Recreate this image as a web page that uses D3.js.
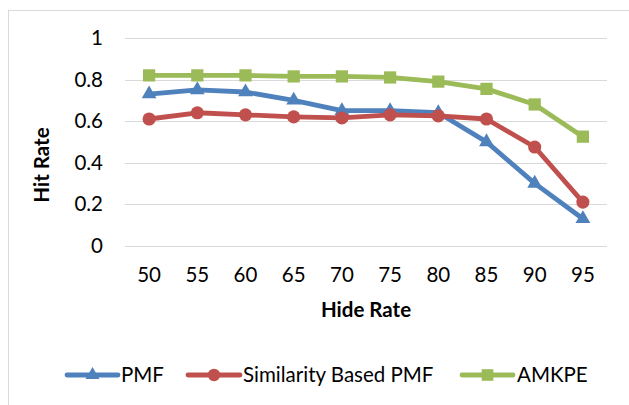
<html>
<head>
<script src="https://d3js.org/d3.v7.min.js"></script>
<style>
  body { margin: 0; background: #fff; }
  text { font-family: Lato, "Open Sans", sans-serif; fill: #000; }
</style>
</head>
<body>
<div id="container"></div>
<script>
// data
const hideRates = ['50', '55', '60', '65', '70', '75', '80', '85', '90', '95']
const pmf = [0.73, 0.75, 0.74, 0.70, 0.65, 0.65, 0.64, 0.50, 0.30, 0.13]
const simPmf = [0.61, 0.64, 0.63, 0.62, 0.615, 0.63, 0.625, 0.61, 0.475, 0.21]
const amkpe = [0.82, 0.82, 0.82, 0.815, 0.815, 0.81, 0.79, 0.755, 0.68, 0.525]
const yTicks = [0, 0.2, 0.4, 0.6, 0.8, 1]

const series = [
  { name: 'PMF', values: pmf, color: '#4F81BD', symbol: d3.symbolTriangle, size: 95 },
  { name: 'Similarity Based PMF', values: simPmf, color: '#C0504D', symbol: d3.symbolCircle, size: 135 },
  { name: 'AMKPE', values: amkpe, color: '#9BBB59', symbol: d3.symbolSquare, size: 150 }
]

const width = 629, height = 405
const fontSize = '20.5px'
const svg = d3.select('#container').append('svg')
  .attr('width', width).attr('height', height)

// chart frame
svg.append('rect')
  .attr('x', 8.5).attr('y', 10.5)
  .attr('width', 640).attr('height', 420)
  .attr('fill', 'none').attr('stroke', '#d9d9d9')

const x = d3.scaleBand().domain(hideRates).range([125, 607])
const y = d3.scaleLinear().domain([0, 1]).range([245.7, 38])
const cx = d => x(d) + x.bandwidth() / 2

// gridlines
svg.append('g').selectAll('line').data(yTicks).join('line')
  .attr('x1', 125).attr('x2', 607)
  .attr('y1', d => Math.round(y(d)) + 0.5).attr('y2', d => Math.round(y(d)) + 0.5)
  .attr('stroke', '#d9d9d9').attr('stroke-width', 1.2)

// y tick labels
svg.append('g').selectAll('text').data(yTicks).join('text')
  .attr('x', 103).attr('y', d => y(d))
  .attr('dy', '0.35em').attr('text-anchor', 'end')
  .style('font-size', fontSize)
  .text(d => d3.format('~g')(d))

// x tick labels
svg.append('g').selectAll('text').data(hideRates).join('text')
  .attr('x', cx).attr('y', 275)
  .attr('dy', '0.35em').attr('text-anchor', 'middle')
  .style('font-size', fontSize)
  .text(d => d)

// axis titles
svg.append('text')
  .attr('transform', 'translate(42,165) rotate(-90)')
  .attr('dy', '0.35em').attr('text-anchor', 'middle')
  .style('font-size', fontSize).style('font-weight', 'bold')
  .text('Hit Rate')

svg.append('text')
  .attr('x', 366).attr('y', 310)
  .attr('dy', '0.35em').attr('text-anchor', 'middle')
  .style('font-size', fontSize).style('font-weight', 'bold')
  .text('Hide Rate')

const line = d3.line()
  .x((d, i) => cx(hideRates[i]))
  .y(d => y(d))

series.forEach(s => {
  const g = svg.append('g')
  g.append('path')
    .attr('d', line(s.values))
    .attr('fill', 'none').attr('stroke', s.color)
    .attr('stroke-width', 4.8).attr('stroke-linejoin', 'round')
  g.selectAll('path.m').data(s.values).join('path')
    .attr('class', 'm')
    .attr('transform', (d, i) => `translate(${cx(hideRates[i])},${y(d)})`)
    .attr('d', d3.symbol().type(s.symbol).size(s.size))
    .attr('fill', s.color)
})

// legend
const legendPos = [
  { x1: 67, x2: 118, tx: 121 },
  { x1: 188, x2: 240, tx: 243 },
  { x1: 462, x2: 513, tx: 517 }
]
const legendY = 375
series.forEach((s, i) => {
  const p = legendPos[i]
  const g = svg.append('g')
  g.append('line')
    .attr('x1', p.x1).attr('x2', p.x2)
    .attr('y1', legendY).attr('y2', legendY)
    .attr('stroke', s.color).attr('stroke-width', 4.8)
    .attr('stroke-linecap', 'round')
  g.append('path')
    .attr('transform', `translate(${(p.x1 + p.x2) / 2},${legendY})`)
    .attr('d', d3.symbol().type(s.symbol).size(s.size * 0.9))
    .attr('fill', s.color)
  g.append('text')
    .attr('x', p.tx).attr('y', legendY)
    .attr('dy', '0.35em')
    .style('font-size', fontSize)
    .text(s.name)
})
</script>
</body>
</html>
